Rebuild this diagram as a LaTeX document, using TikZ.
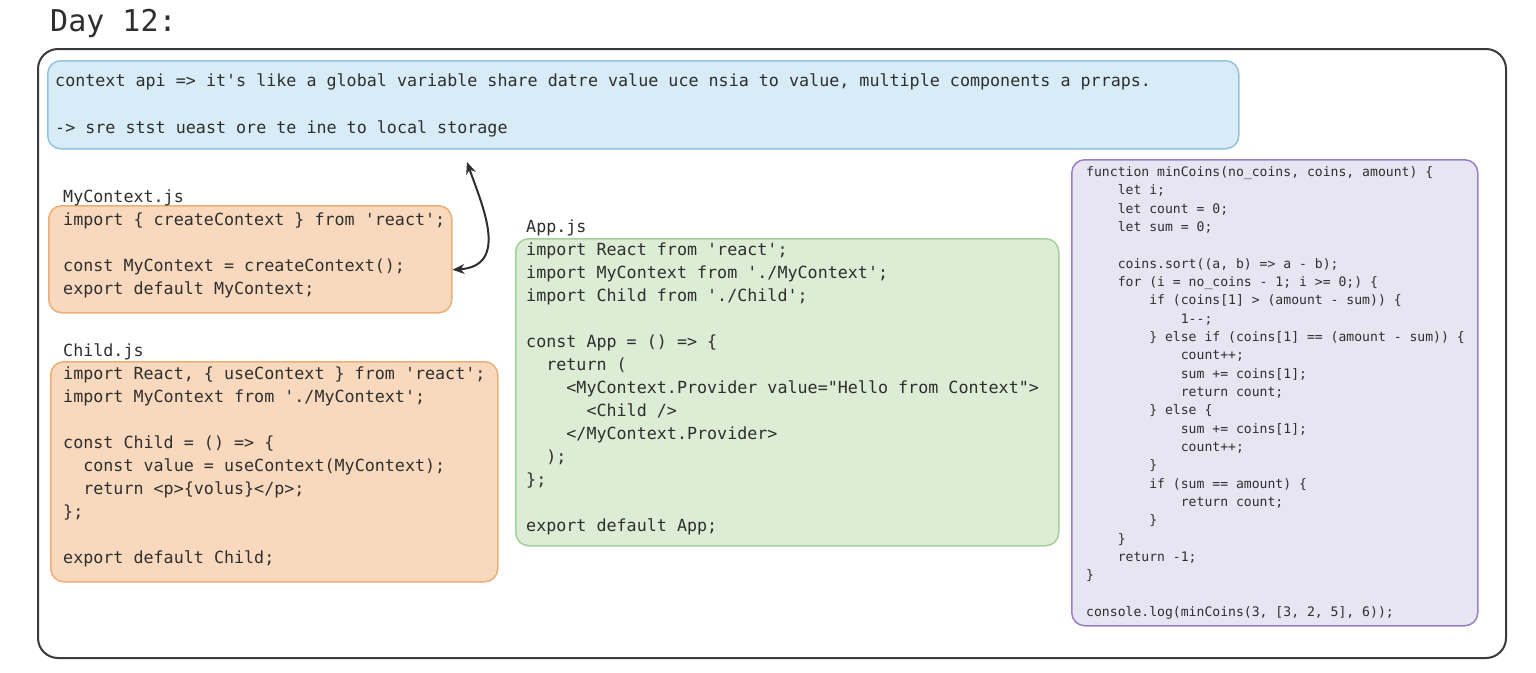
\documentclass[tikz,border=0pt]{standalone}
\usepackage{fontspec}
\setmonofont{DejaVu Sans Mono}
\usetikzlibrary{arrows.meta}
\definecolor{ink}{HTML}{2E2E2E}
\definecolor{frameC}{HTML}{3B3B3B}
\definecolor{blueF}{HTML}{D8ECF7}
\definecolor{blueS}{HTML}{92C3DF}
\definecolor{orF}{HTML}{F9D9BD}
\definecolor{orS}{HTML}{EEAE76}
\definecolor{grF}{HTML}{DCECD5}
\definecolor{grS}{HTML}{A6CF99}
\definecolor{puF}{HTML}{E8E5F3}
\definecolor{puS}{HTML}{9A80C2}
\newcommand\ind[1]{\hspace*{#1\fontcharwd\font`x}}
\begin{document}
\begin{tikzpicture}[x=1pt,y=-1pt,
  box/.style={draw, line width=1.5pt, rounded corners=13pt, anchor=north west, inner sep=0pt},
  code/.style={anchor=north west, inner sep=0pt, align=left, text=ink, font=\ttfamily\fontsize{16.7}{23}\selectfont},
  small/.style={anchor=north west, inner sep=0pt, align=left, text=ink, font=\ttfamily\fontsize{13.1}{18.33}\selectfont},
  lbl/.style={anchor=base west, inner sep=0pt, text=ink, font=\ttfamily\fontsize{16.7}{20}\selectfont},
  conn/.style={{Stealth[length=12pt,width=10pt]}-{Stealth[length=12pt,width=10pt]}, line width=2pt, draw=ink}]
\fill[white] (0,0) rectangle (1536,672);
\useasboundingbox (0,0) rectangle (1536,672);
\node[anchor=base west, inner sep=0pt, text=ink, font=\ttfamily\fontsize{30}{33}\selectfont] (title) at (50,31) {Day 12:};
\node[box, draw=frameC, line width=2pt, rounded corners=20pt, fill=white, minimum width=1468pt, minimum height=609pt] (frame) at (37,48) {};
% context note
\node[box, draw=blueS, fill=blueF, minimum width=1191pt, minimum height=88pt] (ctx) at (47,60) {};
\node[code, font=\ttfamily\fontsize{16.7}{23.5}\selectfont] (ctxt) at (55,69.5) {\strut context api => it's like a global variable share datre value uce nsia to value, multiple components a prraps.\\ \strut\\ -> sre stst ueast ore te ine to local storage};
% MyContext.js
\node[box, draw=orS, fill=orF, minimum width=403pt, minimum height=107pt] (mctx) at (48,205) {};
\node[lbl] (mlabel) at (63,202) {MyContext.js};
\node[code] (mtext) at (63,209.5) {\strut import \{ createContext \} from 'react';\\ \strut\\ const MyContext = createContext();\\ export default MyContext;};
% Child.js
\node[box, draw=orS, fill=orF, minimum width=447pt, minimum height=220pt] (child) at (50,361) {};
\node[lbl] (clabel) at (63,356) {Child.js};
\node[code] (ctext) at (63,363.5) {\strut import React, \{ useContext \} from 'react';\\
import MyContext from './MyContext';\\ \strut\\
const Child = () => \{\\
\ind{2}const value = useContext(MyContext);\\
\ind{2}return <p>\{volus\}</p>;\\
\};\\ \strut\\
export default Child;};
% App.js
\node[box, draw=grS, fill=grF, minimum width=543pt, minimum height=307pt] (app) at (515,238) {};
\node[lbl] (alabel) at (526,232) {App.js};
\node[code] (atext) at (526,239.5) {\strut import React from 'react';\\
import MyContext from './MyContext';\\
import Child from './Child';\\ \strut\\
const App = () => \{\\
\ind{2}return (\\
\ind{4}<MyContext.Provider value="Hello from Context">\\
\ind{6}<Child />\\
\ind{4}</MyContext.Provider>\\
\ind{2});\\
\};\\ \strut\\
export default App;};
% minCoins
\node[box, draw=puS, fill=puF, minimum width=406pt, minimum height=466pt] (coins) at (1071,159) {};
\node[small] (ptext) at (1086,163.5) {\strut function minCoins(no\_coins, coins, amount) \{\\
\ind{4}let i;\\
\ind{4}let count = 0;\\
\ind{4}let sum = 0;\\ \strut\\
\ind{4}coins.sort((a, b) => a - b);\\
\ind{4}for (i = no\_coins - 1; i >= 0;) \{\\
\ind{8}if (coins[1] > (amount - sum)) \{\\
\ind{12}1--;\\
\ind{8}\} else if (coins[1] == (amount - sum)) \{\\
\ind{12}count++;\\
\ind{12}sum += coins[1];\\
\ind{12}return count;\\
\ind{8}\} else \{\\
\ind{12}sum += coins[1];\\
\ind{12}count++;\\
\ind{8}\}\\
\ind{8}if (sum == amount) \{\\
\ind{12}return count;\\
\ind{8}\}\\
\ind{4}\}\\
\ind{4}return -1;\\
\}\\ \strut\\
console.log(minCoins(3, [3, 2, 5], 6));};
% connector
\coordinate (atop) at (467,162);
\draw[conn] (atop) .. controls (482,205) and (510,266) .. ([yshift=-10.5pt]mctx.east);
\end{tikzpicture}
\end{document}
